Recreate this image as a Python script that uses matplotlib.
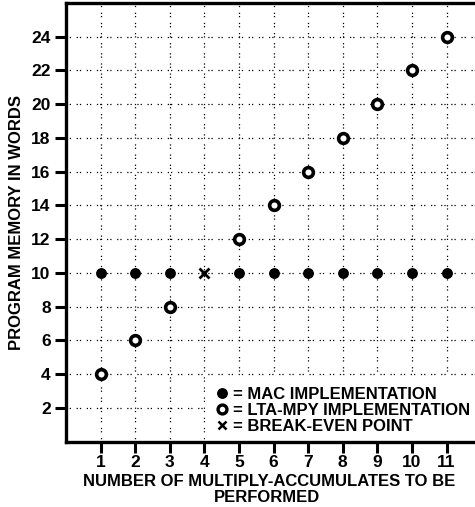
import matplotlib
matplotlib.use("Agg")
import matplotlib.pyplot as plt
from matplotlib.patches import Rectangle

plt.rcParams['font.family'] = ['Liberation Sans', 'DejaVu Sans']

# Program memory (words) versus number of multiply-accumulates
mac_x = [1, 2, 3, 5, 6, 7, 8, 9, 10, 11]
mac_y = [10, 10, 10, 10, 10, 10, 10, 10, 10, 10]
lta_x = [1, 2, 3, 5, 6, 7, 8, 9, 10, 11]
lta_y = [4, 6, 8, 12, 14, 16, 18, 20, 22, 24]
even_x = [4]
even_y = [10]

x_ticks = [1, 2, 3, 4, 5, 6, 7, 8, 9, 10, 11]
y_ticks = [2, 4, 6, 8, 10, 12, 14, 16, 18, 20, 22, 24]
legend_labels = ['= MAC IMPLEMENTATION', '= LTA-MPY IMPLEMENTATION',
                 '= BREAK-EVEN POINT']

W, H = 475, 507
fig = plt.figure(figsize=(W / 100, H / 100), dpi=100)


def fx(px):
    return px / W


def fy(py):
    return 1 - py / H


# the plotting area continues past the right edge of the figure
left, bottom, top = 66, 441.5, 3
ax = fig.add_axes([fx(left), fy(bottom), 1.2, (bottom - top) / H])
x_unit = 34.6
ax.set_xlim(0, 1.2 * W / x_unit)
ax.set_ylim(0, 26)

ax.set_xticks(x_ticks)
ax.set_yticks(y_ticks)
ax.grid(True, linestyle=(0, (1, 1.6, 1, 4.5)), color='black', linewidth=0.9)
ax.set_axisbelow(True)

for s in ['left', 'bottom', 'top']:
    ax.spines[s].set_linewidth(2.4)
ax.spines['right'].set_visible(False)

ax.tick_params(axis='both', direction='out', length=8, width=2.2,
               labelsize=12.5)
ax.tick_params(axis='x', pad=2)
ax.tick_params(axis='y', pad=3)
for lab in ax.get_xticklabels() + ax.get_yticklabels():
    lab.set_fontweight('bold')

ax.plot(mac_x, mac_y, linestyle='none', marker='o', markersize=6.8,
        color='black', zorder=3)
ax.plot(lta_x, lta_y, linestyle='none', marker='o', markersize=7,
        markerfacecolor='white', markeredgecolor='black',
        markeredgewidth=2.6, zorder=3)
ax.plot(even_x, even_y, linestyle='none', marker='x', markersize=6.5,
        markeredgewidth=2.0, color='black', zorder=3)

# key, on a white panel that hides the grid behind it
fig.add_artist(Rectangle((fx(205), fy(440)), fx(W) - fx(205), fy(377) - fy(440),
                         transform=fig.transFigure, facecolor='white',
                         edgecolor='none', zorder=2.5))
key_rows = [393, 409, 425]
key_styles = [
    dict(marker='o', markersize=6.8, color='black'),
    dict(marker='o', markersize=6.4, markerfacecolor='white',
         markeredgecolor='black', markeredgewidth=2.4),
    dict(marker='x', markersize=5.5, markeredgewidth=1.8, color='black'),
]
for py, style, text in zip(key_rows, key_styles, legend_labels):
    fig.add_artist(plt.Line2D([fx(222)], [fy(py)], linestyle='none',
                              transform=fig.transFigure, zorder=3, **style))
    fig.text(fx(233), fy(py), text, ha='left', va='center_baseline',
             fontsize=12, fontweight='bold', zorder=3)

fig.text(fx(17), fy(222), 'PROGRAM MEMORY IN WORDS', rotation=90,
         ha='center', va='center', fontsize=12, fontweight='bold')
fig.text(fx(269), fy(481), 'NUMBER OF MULTIPLY-ACCUMULATES TO BE',
         ha='center', va='center', fontsize=12, fontweight='bold')
fig.text(fx(267), fy(497), 'PERFORMED',
         ha='center', va='center', fontsize=12, fontweight='bold')

fig.savefig('out.png', dpi=100)
